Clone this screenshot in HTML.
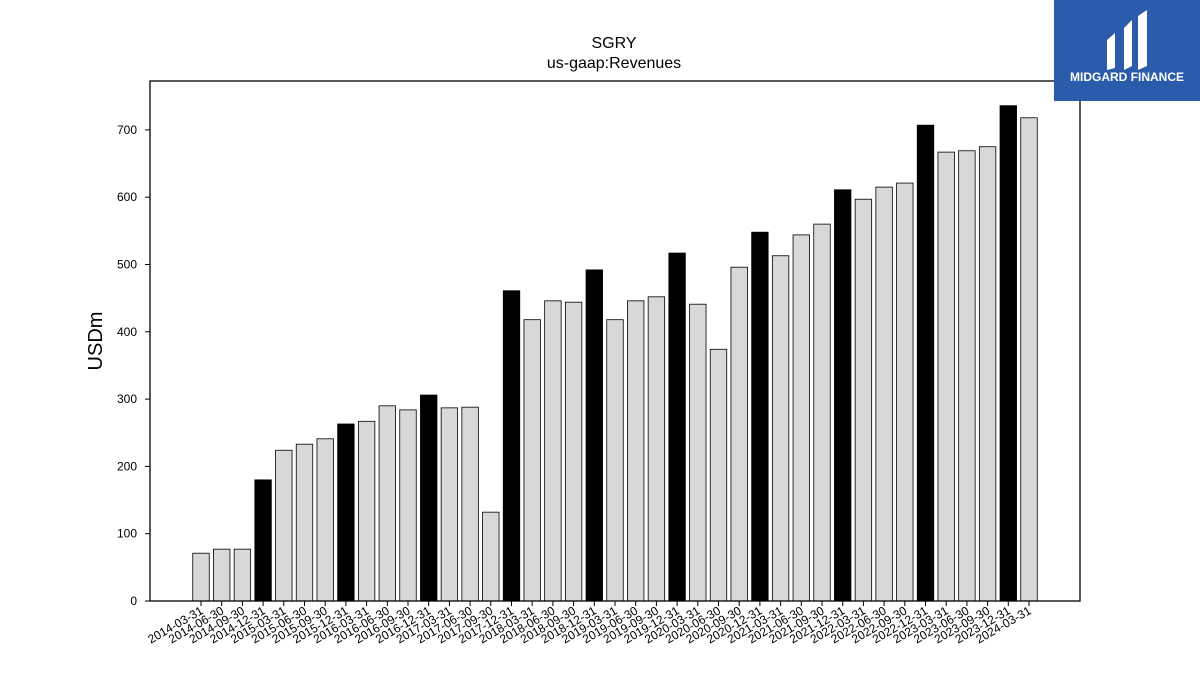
<!DOCTYPE html>
<html><head><meta charset="utf-8"><style>
html,body{margin:0;padding:0;background:#fff;}
svg{display:block;font-family:"Liberation Sans","DejaVu Sans",sans-serif;}
</style></head><body>
<svg id="chart" width="1200" height="675" viewBox="0 0 1200 675">
<text x="614" y="48" text-anchor="middle" font-size="16">SGRY</text>
<text x="614" y="68" text-anchor="middle" font-size="16">us-gaap:Revenues</text>
<text x="0" y="0" transform="translate(102,341) rotate(-90)" text-anchor="middle" font-size="20">USDm</text>
<g id="bars"></g>
<g id="yticks"></g>
<g id="xticks"></g>
<rect x="150" y="81" width="930" height="520" fill="none" stroke="#000" stroke-width="1.3"/>
<g>
<rect x="1054" y="0" width="146" height="101" fill="#2b5bab"/>
<path d="M1107 40 L1115 33 L1115 68 L1107 70 Z M1124 28 L1132 20 L1132 66 L1124 70 Z M1138 16 L1147 10 L1147 66 L1138 70 Z" fill="#fff"/>
<text x="1127" y="81" text-anchor="middle" font-size="12" font-weight="bold" fill="#fff">MIDGARD FINANCE</text>
</g>
</svg>
<script>
const categories=["2014-03-31","2014-06-30","2014-09-30","2014-12-31","2015-03-31","2015-06-30","2015-09-30","2015-12-31","2016-03-31","2016-06-30","2016-09-30","2016-12-31","2017-03-31","2017-06-30","2017-09-30","2017-12-31","2018-03-31","2018-06-30","2018-09-30","2018-12-31","2019-03-31","2019-06-30","2019-09-30","2019-12-31","2020-03-31","2020-06-30","2020-09-30","2020-12-31","2021-03-31","2021-06-30","2021-09-30","2021-12-31","2022-03-31","2022-06-30","2022-09-30","2022-12-31","2023-03-31","2023-06-30","2023-09-30","2023-12-31","2024-03-31"];
const values=[71,77,77,180,224,233,241,263,267,290,284,306,287,288,132,461,418,446,444,492,418,446,452,517,441,374,496,548,513,544,560,611,597,615,621,707,667,669,675,736,718];
const yTicks=[0,100,200,300,400,500,600,700];
const NS="http://www.w3.org/2000/svg";
const y0=601, pxPer=0.673;
const yScale=v=>y0-v*pxPer;
const xStart=201, step=(1029-201)/40;
const xScale=i=>xStart+i*step;
const bw=16.5;
function mk(tag,attrs,parent){const e=document.createElementNS(NS,tag);for(const k in attrs)e.setAttribute(k,attrs[k]);parent.appendChild(e);return e;}
const bars=document.getElementById('bars'),yt=document.getElementById('yticks'),xt=document.getElementById('xticks');
values.forEach((v,i)=>{
  const yr=categories[i].endsWith("12-31");
  const r=mk('rect',{x:xScale(i)-bw/2,y:yScale(v),width:bw,height:v*pxPer,fill:yr?'#000':'#d8d8d8',stroke:'#000','stroke-width':0.8},bars);
  
  
  const t=mk('line',{x1:xScale(i),x2:xScale(i),y1:y0,y2:y0+5,stroke:'#000'},xt);
  
  
  const l=mk('text',{x:0,y:0,transform:`translate(${xScale(i)+3},${y0+12}) rotate(-30)`,'text-anchor':'end','font-size':12},xt);
  l.textContent=categories[i];
  
  
});
yTicks.forEach(v=>{
  const t=mk('line',{x1:145,x2:150,y1:yScale(v),y2:yScale(v),stroke:'#000'},yt);
  
  
  const l=mk('text',{x:137,y:yScale(v)+4,'text-anchor':'end','font-size':12},yt);
  l.textContent=v;
  
  
});
</script>
</body></html>
